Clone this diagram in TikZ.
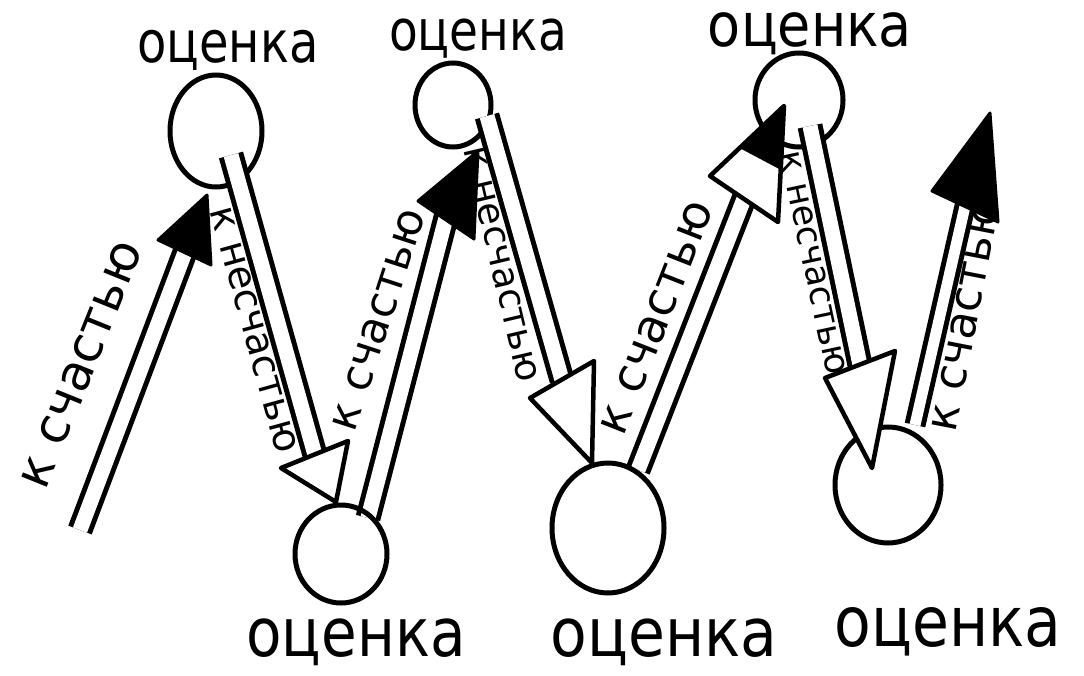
\documentclass[tikz,border=0pt]{standalone}
\usepackage{fontspec}
\setmainfont{DejaVu Sans}
\usetikzlibrary{shapes.geometric,calc}
\begin{document}
\begin{tikzpicture}[x=1pt,y=-1pt,
  circ/.style={draw, ellipse, line width=5pt, inner sep=0pt},
  shaft/.style={draw, double=white, double distance=15pt, line width=5pt},
  uphead/.style={fill=black, draw=black, line width=3pt, line join=round},
  openhead/.style={fill=white, draw=black, line width=4.5pt, line join=round},
  lbl/.style={inner sep=0pt, anchor=base},
  alab/.style={inner sep=0pt}
]
\useasboundingbox (0,0) rectangle (1084,675);

% ---------- coordinates of the arrows ----------
% arrow 1 (up)
\coordinate (a1s) at (80,530);  \coordinate (a1e) at (190,239);
\coordinate (a1l) at (158,240); \coordinate (a1t) at (207,195); \coordinate (a1r) at (211,265);
% arrow 2 (down)
\coordinate (a2s) at (231,155); \coordinate (a2e) at (315,455);
\coordinate (a2l) at (281,468); \coordinate (a2t) at (336,502); \coordinate (a2r) at (348,441);
% arrow 3 (up)
\coordinate (a3s) at (368,518); \coordinate (a3e) at (449,206);
\coordinate (a3l) at (418,201); \coordinate (a3t) at (478,151); \coordinate (a3r) at (474,239);
% arrow 4 (down)
\coordinate (a4s) at (487,116); \coordinate (a4e) at (562,380);
\coordinate (a4l) at (530,398); \coordinate (a4t) at (592,463); \coordinate (a4r) at (594,361);
% arrow 5 (up)
\coordinate (a5s) at (638,470); \coordinate (a5e) at (749,186);
\coordinate (a5l) at (710,176); \coordinate (a5t) at (784,106); \coordinate (a5r) at (778,222);
% arrow 6 (down)
\coordinate (a6s) at (810,126); \coordinate (a6e) at (860,365);
\coordinate (a6l) at (825,378); \coordinate (a6t) at (872,468); \coordinate (a6r) at (895,351);
% arrow 7 (up)
\coordinate (a7s) at (915,425); \coordinate (a7e) at (968,193);
\coordinate (a7l) at (932,191); \coordinate (a7t) at (990,113); \coordinate (a7r) at (998,222);

% ---------- up arrows (к счастью) ----------
\draw[shaft] (a1s) -- (a1e);
\draw[uphead] (a1l) -- (a1t) -- (a1r) -- cycle;
\draw[shaft] (a3s) -- (a3e);
\draw[uphead] (a3l) -- (a3t) -- (a3r) -- cycle;
\draw[shaft] (a5s) -- (a5e);
\draw[openhead] (a5l) -- (a5t) -- (a5r) -- cycle;
\fill (a5t) -- ($(a5t)!0.6!(a5l)$) -- ($(a5t)!0.55!(a5r)$) -- cycle;
\draw[shaft, double distance=11pt] (a7s) -- (a7e);
\draw[uphead] (a7l) -- (a7t) -- (a7r) -- cycle;

% ---------- circles ----------
\node[circ, minimum width=92pt, minimum height=112pt] (c1) at (216,131) {};
\node[circ, minimum width=76pt, minimum height=84pt]  (c2) at (453,105) {};
\node[circ, minimum width=88pt, minimum height=94pt]  (c3) at (799,100) {};
\node[circ, minimum width=92pt, minimum height=98pt]  (c4) at (341,554) {};
\node[circ, minimum width=112pt, minimum height=130pt] (c5) at (608,528) {};
\node[circ, minimum width=106pt, minimum height=116pt] (c6) at (888,485) {};

% ---------- down arrows (к несчастью) ----------
\draw[shaft] (a2s) -- (a2e);
\draw[openhead] (a2l) -- (a2t) -- (a2r) -- cycle;
\draw[shaft] (a4s) -- (a4e);
\draw[openhead] (a4l) -- (a4t) -- (a4r) -- cycle;
\draw[shaft] (a6s) -- (a6e);
\draw[openhead] (a6l) -- (a6t) -- (a6r) -- cycle;

% ---------- labels оценка ----------
\node[lbl, font=\fontsize{48}{48}\selectfont] (t1) at (228,62) {\scalebox{1}[1.2]{оценка}};
\node[lbl, font=\fontsize{47}{47}\selectfont] (t2) at (478,50) {\scalebox{1}[1.2]{оценка}};
\node[lbl, font=\fontsize{54}{54}\selectfont] (t3) at (810,46) {\scalebox{1}[1.12]{оценка}};
\node[lbl, font=\fontsize{58}{58}\selectfont] (t4) at (356,656) {\scalebox{1}[1.16]{оценка}};
\node[lbl, font=\fontsize{60}{60}\selectfont] (t5) at (664,656) {\scalebox{1}[1.12]{оценка}};
\node[lbl, font=\fontsize{60}{60}\selectfont] (t6) at (948,646) {\scalebox{1}[1.16]{оценка}};

% ---------- arrow labels ----------
\node[alab, rotate=68, font=\fontsize{50}{50}\selectfont] (l1) at (82,365) {к счастью};
\node[alab, rotate=-74.5, font=\fontsize{39}{39}\selectfont] (l2) at (254,330) {к несчастью};
\node[alab, rotate=72, font=\fontsize{44}{44}\selectfont] (l3) at (379,320) {к счастью};
\node[alab, rotate=-76.7, font=\fontsize{37}{37}\selectfont] (l4) at (501,264) {к несчастью};
\node[alab, rotate=68.5, font=\fontsize{47}{47}\selectfont] (l5) at (657,318) {к счастью};
\node[alab, rotate=-78, font=\fontsize{35}{35}\selectfont] (l6) at (813,263) {к несчастью};
\node[alab, rotate=79, font=\fontsize{45}{45}\selectfont] (l7) at (966,315) {к счастью};
\end{tikzpicture}
\end{document}
